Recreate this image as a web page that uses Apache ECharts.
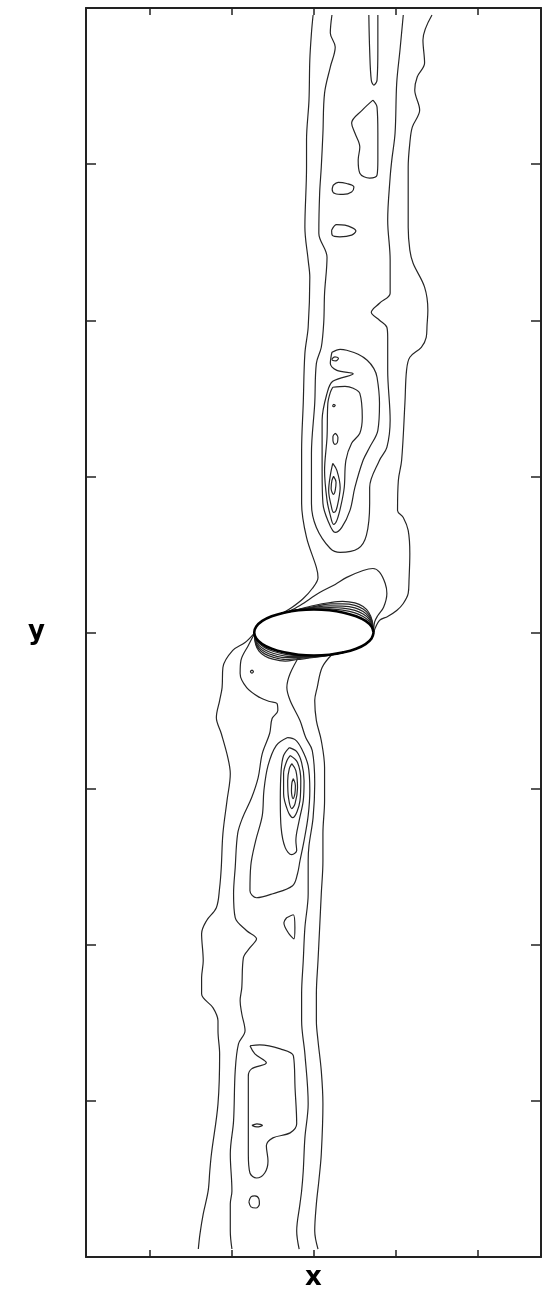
<!DOCTYPE html>
<html><head><meta charset="utf-8">
<script src="https://cdn.jsdelivr.net/npm/echarts@6/dist/echarts.min.js"></script>
<style>html,body{margin:0;padding:0;background:#fff}#c{width:543px;height:1289px}</style>
</head><body><div id="c"></div>
<script>
// axis ticks (no labels shown in the reference)
const xTicks = [-2, -1, 0, 1, 2];
const yTicks = [-3, -2, -1, 0, 1, 2, 3];

// elliptical body
const body = [[0.728,0],[0.703,0.038],[0.630,0.074],[0.515,0.104],[0.364,0.127],[0.188,0.142],[0,0.147],[-0.188,0.142],[-0.364,0.127],[-0.515,0.104],[-0.630,0.074],[-0.703,0.038],[-0.728,0],[-0.703,-0.038],[-0.630,-0.074],[-0.515,-0.104],[-0.364,-0.127],[-0.188,-0.142],[0,-0.147],[0.188,-0.142],[0.364,-0.127],[0.515,-0.104],[0.630,-0.074],[0.703,-0.038],[0.728,0]];

// ---- upper wake contours ----
const upOuterLeft = [[-0.01,3.955],[-0.03,3.840],[-0.05,3.667],[-0.06,3.410],[-0.09,3.154],[-0.09,2.981],[-0.11,2.596],[-0.07,2.385],[-0.05,2.276],[-0.07,1.955],[-0.11,1.788],[-0.13,1.468],[-0.15,1.167],[-0.15,0.929],[-0.15,0.827],[-0.09,0.609],[0.03,0.417],[0.05,0.353],[-0.02,0.282],[-0.13,0.218],[-0.27,0.160],[-0.37,0.128]];
const upU = [[0.22,3.955],[0.20,3.840],[0.26,3.750],[0.20,3.622],[0.13,3.455],[0.11,3.199],[0.09,2.981],[0.07,2.814],[0.06,2.558],[0.16,2.404],[0.13,2.173],[0.12,1.987],[0.09,1.827],[0.03,1.724],[0.01,1.468],[-0.03,1.147],[-0.03,0.929],[-0.03,0.827],[0.03,0.673],[0.20,0.538],[0.32,0.513],[0.54,0.538],[0.64,0.622],[0.68,0.827],[0.68,0.929],[0.80,1.103],[0.89,1.186],[0.93,1.359],[0.90,1.679],[0.90,1.891],[0.89,1.955],[0.80,2.000],[0.70,2.051],[0.80,2.109],[0.93,2.173],[0.93,2.385],[0.90,2.641],[0.93,2.917],[0.95,3.026],[0.99,3.199],[1.01,3.519],[1.05,3.731],[1.09,3.955]];
const upOuterRight = [[1.44,3.955],[1.33,3.795],[1.35,3.647],[1.26,3.558],[1.23,3.474],[1.29,3.346],[1.20,3.237],[1.17,3.135],[1.15,2.981],[1.15,2.596],[1.17,2.449],[1.21,2.365],[1.35,2.212],[1.39,2.064],[1.38,1.968],[1.37,1.891],[1.31,1.827],[1.17,1.763],[1.13,1.679],[1.11,1.468],[1.07,1.103],[1.03,0.974],[1.02,0.782],[1.09,0.737],[1.15,0.654],[1.17,0.506],[1.16,0.333],[1.15,0.250],[1.09,0.186],[1.01,0.141],[0.90,0.103],[0.80,0.077],[0.728,0.0]];
const upInnerArc = [[-0.32,0.131],[-0.17,0.173],[0.07,0.256],[0.26,0.308],[0.40,0.353],[0.60,0.397],[0.72,0.410],[0.80,0.387],[0.87,0.314],[0.89,0.250],[0.85,0.162],[0.78,0.109],[0.74,0.066],[0.728,0.0]];
const upTopThin = [[0.67,3.955],[0.68,3.731],[0.70,3.538],[0.73,3.506],[0.77,3.538],[0.78,3.731],[0.78,3.955]];
const upLoopA = [[0.72,3.410],[0.59,3.346],[0.46,3.263],[0.50,3.199],[0.56,3.109],[0.54,3.026],[0.56,2.942],[0.68,2.910],[0.77,2.929],[0.78,3.026],[0.78,3.199],[0.77,3.365],[0.72,3.410]];
const upLoopB = [[0.235,2.865],[0.296,2.883],[0.399,2.876],[0.488,2.854],[0.460,2.822],[0.357,2.806],[0.256,2.812],[0.223,2.838],[0.235,2.865]];
const upLoopC = [[0.216,2.577],[0.277,2.613],[0.378,2.609],[0.512,2.571],[0.460,2.545],[0.317,2.534],[0.223,2.545],[0.216,2.577]];
const upCore1 = [[0.22,1.795],[0.32,1.814],[0.40,1.808],[0.54,1.782],[0.65,1.744],[0.73,1.692],[0.77,1.635],[0.80,1.468],[0.78,1.295],[0.68,1.186],[0.60,1.103],[0.50,0.929],[0.44,0.782],[0.34,0.673],[0.26,0.641],[0.17,0.718],[0.11,0.827],[0.10,1.038],[0.10,1.359],[0.16,1.532],[0.23,1.609],[0.48,1.657],[0.28,1.679],[0.20,1.724],[0.21,1.769],[0.22,1.795]];
const upCore1Eye = [[0.22,1.753],[0.256,1.766],[0.299,1.756],[0.268,1.740],[0.226,1.744],[0.22,1.753]];
const upCore2 = [[0.23,1.571],[0.38,1.577],[0.48,1.564],[0.56,1.532],[0.59,1.378],[0.56,1.276],[0.46,1.212],[0.39,1.103],[0.37,0.929],[0.33,0.814],[0.28,0.718],[0.24,0.692],[0.20,0.750],[0.16,0.846],[0.13,1.038],[0.16,1.250],[0.17,1.468],[0.20,1.538],[0.23,1.571]];
const upCore2Dot = [[0.24,1.462],[0.26,1.455],[0.24,1.446],[0.23,1.452],[0.24,1.462]];
const upCore2Eye = [[0.262,1.276],[0.293,1.250],[0.287,1.218],[0.256,1.205],[0.232,1.231],[0.232,1.256],[0.262,1.276]];
const upCore3 = [[0.23,1.083],[0.28,1.038],[0.32,0.929],[0.30,0.846],[0.27,0.782],[0.24,0.769],[0.21,0.814],[0.18,0.910],[0.20,1.006],[0.23,1.083]];
const upCore4 = [[0.24,1.000],[0.27,0.962],[0.26,0.910],[0.24,0.885],[0.21,0.923],[0.22,0.974],[0.24,1.000]];

// contours hugging the body
const fanUp1 = [[-0.4,0.123],[-0.25,0.141],[0,0.173],[0.2,0.192],[0.35,0.200],[0.5,0.190],[0.6,0.166],[0.67,0.128],[0.71,0.077],[0.728,0]];
const fanUp2 = [[-0.4,0.123],[-0.25,0.141],[0,0.166],[0.2,0.183],[0.35,0.183],[0.5,0.174],[0.6,0.150],[0.67,0.115],[0.71,0.068],[0.728,0]];
const fanUp3 = [[-0.4,0.123],[-0.25,0.140],[0,0.161],[0.2,0.170],[0.35,0.169],[0.5,0.158],[0.6,0.134],[0.67,0.101],[0.71,0.058],[0.728,0]];
const fanUp4 = [[-0.4,0.123],[-0.25,0.139],[0,0.157],[0.2,0.160],[0.35,0.156],[0.5,0.142],[0.6,0.118],[0.67,0.088],[0.71,0.050],[0.728,0]];
const fanUp5 = [[-0.4,0.123],[-0.25,0.139],[0,0.152],[0.2,0.151],[0.35,0.143],[0.5,0.126],[0.6,0.102],[0.67,0.074],[0.71,0.042],[0.728,0]];
const fanLo1 = [[0.4,-0.123],[0.25,-0.140],[0,-0.160],[-0.2,-0.173],[-0.35,-0.183],[-0.5,-0.171],[-0.6,-0.150],[-0.67,-0.119],[-0.71,-0.078],[-0.728,0]];
const fanLo2 = [[0.4,-0.123],[0.25,-0.140],[0,-0.157],[-0.2,-0.167],[-0.35,-0.173],[-0.5,-0.158],[-0.6,-0.137],[-0.67,-0.107],[-0.71,-0.069],[-0.728,0]];
const fanLo3 = [[0.4,-0.123],[0.25,-0.139],[0,-0.155],[-0.2,-0.160],[-0.35,-0.161],[-0.5,-0.145],[-0.6,-0.123],[-0.67,-0.095],[-0.71,-0.060],[-0.728,0]];
const fanLo4 = [[0.4,-0.123],[0.25,-0.139],[0,-0.152],[-0.2,-0.154],[-0.35,-0.151],[-0.5,-0.133],[-0.6,-0.110],[-0.67,-0.082],[-0.71,-0.051],[-0.728,0]];
const fanLo5 = [[0.4,-0.123],[0.25,-0.138],[0,-0.150],[-0.2,-0.148],[-0.35,-0.140],[-0.5,-0.120],[-0.6,-0.097],[-0.67,-0.070],[-0.71,-0.042],[-0.728,0]];

// ---- lower wake contours ----
const loOuterLeft = [[-0.728,-0.005],[-0.84,-0.064],[-0.99,-0.115],[-1.11,-0.224],[-1.12,-0.353],[-1.15,-0.436],[-1.19,-0.545],[-1.13,-0.647],[-1.05,-0.801],[-1.02,-0.904],[-1.06,-1.077],[-1.11,-1.288],[-1.13,-1.506],[-1.15,-1.635],[-1.19,-1.763],[-1.31,-1.846],[-1.37,-1.929],[-1.35,-2.103],[-1.37,-2.212],[-1.37,-2.314],[-1.23,-2.404],[-1.17,-2.487],[-1.17,-2.551],[-1.15,-2.699],[-1.17,-3.019],[-1.25,-3.340],[-1.27,-3.449],[-1.29,-3.577],[-1.35,-3.724],[-1.39,-3.853],[-1.41,-3.949]];
const loLeft = [[-0.73,-0.013],[-0.80,-0.083],[-0.89,-0.179],[-0.90,-0.263],[-0.82,-0.353],[-0.66,-0.417],[-0.54,-0.442],[-0.45,-0.455],[-0.44,-0.500],[-0.51,-0.551],[-0.54,-0.647],[-0.63,-0.776],[-0.68,-0.929],[-0.76,-1.058],[-0.87,-1.186],[-0.93,-1.288],[-0.96,-1.506],[-0.98,-1.673],[-0.96,-1.827],[-0.82,-1.910],[-0.70,-1.962],[-0.78,-2.019],[-0.86,-2.083],[-0.88,-2.276],[-0.90,-2.359],[-0.88,-2.442],[-0.84,-2.551],[-0.92,-2.635],[-0.96,-2.808],[-0.98,-3.128],[-1.02,-3.340],[-1.00,-3.577],[-1.02,-3.660],[-1.02,-3.833],[-1.00,-3.949]];
const loMid = [[-0.17,-0.144],[-0.29,-0.263],[-0.33,-0.353],[-0.29,-0.436],[-0.17,-0.564],[-0.10,-0.673],[-0.02,-0.756],[0.01,-0.968],[-0.01,-1.186],[-0.06,-1.365],[-0.07,-1.462],[-0.07,-1.673],[-0.11,-1.891],[-0.13,-2.103],[-0.15,-2.314],[-0.15,-2.487],[-0.11,-2.699],[-0.07,-3.019],[-0.11,-3.237],[-0.13,-3.449],[-0.15,-3.577],[-0.17,-3.660],[-0.21,-3.833],[-0.18,-3.949]];
const loRight = [[0.22,-0.141],[0.10,-0.224],[0.04,-0.353],[0.01,-0.436],[0.03,-0.564],[0.09,-0.692],[0.13,-0.865],[0.13,-1.077],[0.11,-1.288],[0.11,-1.462],[0.09,-1.673],[0.07,-1.891],[0.05,-2.103],[0.03,-2.314],[0.03,-2.487],[0.05,-2.615],[0.09,-2.808],[0.11,-3.019],[0.09,-3.340],[0.06,-3.513],[0.03,-3.660],[0.01,-3.833],[0.05,-3.949]];
const loCore0 = [[-0.32,-0.673],[-0.46,-0.724],[-0.56,-0.853],[-0.61,-1.013],[-0.63,-1.173],[-0.71,-1.333],[-0.77,-1.494],[-0.78,-1.654],[-0.70,-1.699],[-0.50,-1.673],[-0.26,-1.622],[-0.20,-1.545],[-0.17,-1.462],[-0.12,-1.333],[-0.07,-1.173],[-0.05,-1.013],[-0.07,-0.853],[-0.15,-0.744],[-0.23,-0.686],[-0.32,-0.673]];
const loCore1 = [[-0.30,-0.737],[-0.21,-0.763],[-0.15,-0.833],[-0.12,-0.949],[-0.13,-1.077],[-0.18,-1.205],[-0.22,-1.333],[-0.21,-1.397],[-0.27,-1.423],[-0.35,-1.378],[-0.40,-1.250],[-0.41,-1.077],[-0.40,-0.885],[-0.37,-0.788],[-0.30,-0.737]];
const loCore2 = [[-0.29,-0.788],[-0.20,-0.833],[-0.16,-0.949],[-0.17,-1.077],[-0.26,-1.186],[-0.32,-1.141],[-0.37,-1.032],[-0.37,-0.904],[-0.33,-0.821],[-0.29,-0.788]];
const loCore3 = [[-0.27,-0.840],[-0.22,-0.885],[-0.20,-0.994],[-0.23,-1.096],[-0.27,-1.128],[-0.31,-1.058],[-0.32,-0.949],[-0.30,-0.872],[-0.27,-0.840]];
const loCore4 = [[-0.25,-0.936],[-0.226,-0.981],[-0.232,-1.032],[-0.256,-1.064],[-0.274,-1.013],[-0.268,-0.962],[-0.25,-0.936]];
const loDot = [[-0.756,-0.240],[-0.738,-0.250],[-0.756,-0.260],[-0.774,-0.250],[-0.756,-0.240]];
const loTear = [[-0.333,-1.827],[-0.252,-1.808],[-0.232,-1.891],[-0.244,-1.962],[-0.313,-1.923],[-0.366,-1.859],[-0.333,-1.827]];
const loLoopD = [[-0.78,-2.647],[-0.66,-2.641],[-0.41,-2.667],[-0.25,-2.712],[-0.23,-2.917],[-0.21,-3.147],[-0.29,-3.205],[-0.50,-3.237],[-0.58,-3.288],[-0.56,-3.385],[-0.60,-3.462],[-0.70,-3.494],[-0.78,-3.462],[-0.80,-3.340],[-0.80,-3.128],[-0.80,-2.840],[-0.76,-2.795],[-0.58,-2.756],[-0.72,-2.699],[-0.78,-2.647]];
const loLoopDEye = [[-0.756,-3.157],[-0.695,-3.147],[-0.628,-3.157],[-0.695,-3.167],[-0.756,-3.157]];
const loRing = [[-0.793,-3.647],[-0.768,-3.615],[-0.720,-3.609],[-0.671,-3.628],[-0.665,-3.660],[-0.707,-3.686],[-0.768,-3.679],[-0.793,-3.647]];

const contours = [upOuterLeft, upU, upOuterRight, upInnerArc, upTopThin, upLoopA, upLoopB, upLoopC,
  upCore1, upCore1Eye, upCore2, upCore2Dot, upCore2Eye, upCore3, upCore4,
  fanUp1, fanUp2, fanUp3, fanUp4, fanUp5, fanLo1, fanLo2, fanLo3, fanLo4, fanLo5,
  loOuterLeft, loLeft, loMid, loRight, loCore0, loCore1, loCore2, loCore3, loCore4,
  loDot, loTear, loLoopD, loLoopDEye, loRing];

const chart = echarts.init(document.getElementById('c'), null, {renderer: 'canvas'});
const lineCol = '#262626';
const nameStyle = {fontFamily: 'DejaVu Sans', fontWeight: 'bold', fontSize: 26, color: '#000'};
function xAx(pos, withName) {
  return {type: 'value', position: pos, min: -2.78, max: 2.77,
    axisLine: {show: true, onZero: false, lineStyle: {color: '#222', width: 2}},
    axisTick: {show: true, inside: true, length: 7, customValues: xTicks, lineStyle: {color: '#222', width: 1.5}},
    axisLabel: {show: false}, splitLine: {show: false},
    name: withName ? 'x' : '', nameLocation: 'middle', nameGap: 8, nameTextStyle: nameStyle};
}
function yAx(pos, withName) {
  return {type: 'value', position: pos, min: -4, max: 4,
    axisLine: {show: true, onZero: false, lineStyle: {color: '#222', width: 2}},
    axisTick: {show: true, inside: true, length: 10, customValues: yTicks, lineStyle: {color: '#222', width: 1.5}},
    axisLabel: {show: false}, splitLine: {show: false},
    name: withName ? 'y' : '', nameLocation: 'middle', nameRotate: 0, nameGap: 41, nameTextStyle: nameStyle};
}
const series = contours.map(d => ({type: 'line', data: d, xAxisIndex: 0, yAxisIndex: 0,
  showSymbol: false, symbol: 'none', smooth: 0.35, silent: true,
  lineStyle: {color: lineCol, width: 1.2}}));
series.push({type: 'line', data: body, showSymbol: false, symbol: 'none', smooth: 0.4, silent: true,
  lineStyle: {color: '#000', width: 2.6}, z: 3});
chart.setOption({
  animation: false,
  backgroundColor: '#fff',
  grid: {left: 86, right: 2, top: 8, bottom: 32, containLabel: false, outerBoundsMode: 'none'},
  xAxis: [xAx('bottom', true), xAx('top', false)],
  yAxis: [yAx('left', true), yAx('right', false)],
  series: series
});
</script></body></html>
